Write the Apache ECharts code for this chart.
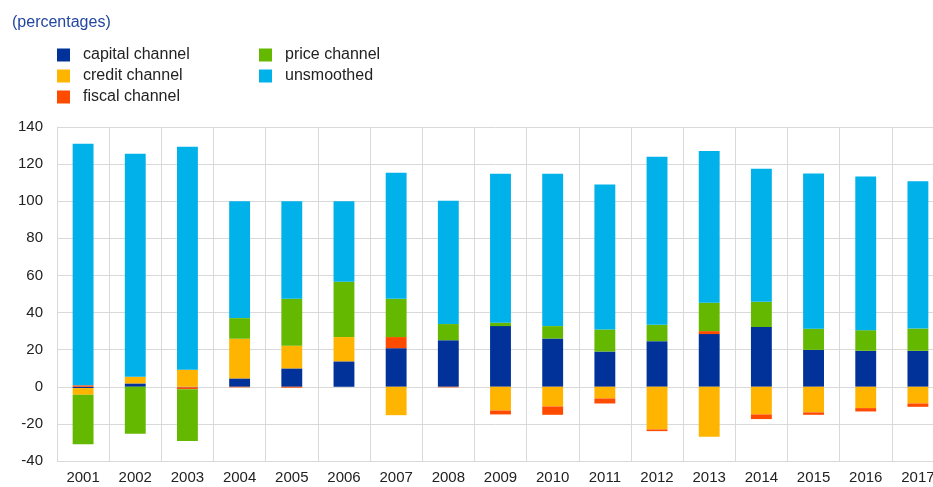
<!DOCTYPE html>
<html>
<head>
<meta charset="utf-8">
<script src="https://cdn.jsdelivr.net/npm/echarts@6/dist/echarts.min.js"></script>
<style>
  html, body { margin: 0; padding: 0; background: #fff; }
  #chart { width: 933px; height: 487px; }
</style>
</head>
<body>
<div id="chart"></div>
<script>
const years = ['2001', '2002', '2003', '2004', '2005', '2006', '2007', '2008', '2009',
  '2010', '2011', '2012', '2013', '2014', '2015', '2016', '2017']

// values (percentages)
const capital = [-0.7, 1.8, -0.3, 4.5, 9.9, 13.7, 20.8, 25.1, 32.7, 26.0, 19.0, 24.6, 28.4, 32.2, 19.9, 19.4, 19.4]
const credit = [-3.6, 3.6, 9.2, 21.4, 12.2, 13.1, -15.3, 0, -12.8, -10.6, -6.3, -23.0, -26.9, -14.9, -13.8, -11.5, -9.0]
const fiscal = [0.8, 0, -1.0, -0.3, -0.5, 0, 6.0, -0.3, -2.1, -4.5, -2.7, -0.9, 1.6, -2.5, -1.3, -1.8, -1.8]
const price = [-26.7, -25.3, -27.9, 11.1, 25.3, 29.8, 20.6, 8.7, 1.8, 6.7, 11.9, 8.8, 15.3, 13.6, 11.4, 11.1, 12.0]
const unsmoothed = [130.2, 120.2, 120.2, 63.0, 52.6, 43.4, 67.9, 66.4, 80.3, 82.1, 78.1, 90.6, 81.7, 71.7, 83.7, 82.8, 79.4]

const yTicks = { min: -40, max: 140, step: 20 }

const seriesDefs = [
  { name: 'capital channel', data: capital, color: '#003299' },
  { name: 'credit channel', data: credit, color: '#ffb400' },
  { name: 'fiscal channel', data: fiscal, color: '#ff4b00' },
  { name: 'price channel', data: price, color: '#65b800' },
  { name: 'unsmoothed', data: unsmoothed, color: '#00b1ea' }
]

const font = 'Liberation Sans, Arial, sans-serif'
const gridColor = '#d9d9d9'

const legendBase = {
  orient: 'vertical',
  top: 42,
  itemWidth: 13,
  itemHeight: 13,
  itemGap: 5,
  icon: 'rect',
  selectedMode: false,
  textStyle: { fontFamily: font, fontSize: 16, color: '#222', padding: [0, 0, 0, 8] }
}

const chart = echarts.init(document.getElementById('chart'))
chart.setOption({
  animation: false,
  title: {
    text: '(percentages)',
    left: 7,
    top: 10,
    textStyle: { fontFamily: font, fontSize: 16, fontWeight: 'normal', color: '#2346a0' }
  },
  legend: [
    Object.assign({}, legendBase, { left: 52, data: ['capital channel', 'credit channel', 'fiscal channel'] }),
    Object.assign({}, legendBase, { left: 254, data: ['price channel', 'unsmoothed'] })
  ],
  // plot runs past the right edge of the canvas, like the original
  grid: { left: 57, top: 127, width: 887, height: 334, outerBoundsMode: 'none', containLabel: false },
  xAxis: {
    type: 'category',
    data: years,
    axisLine: { show: false },
    axisTick: { show: false },
    splitLine: { show: true, lineStyle: { color: gridColor, width: 1 } },
    axisLabel: { fontFamily: font, fontSize: 15, color: '#222', margin: 9 }
  },
  yAxis: {
    type: 'value',
    min: yTicks.min,
    max: yTicks.max,
    interval: yTicks.step,
    axisLine: { show: true, lineStyle: { color: gridColor } },
    axisTick: { show: false },
    splitLine: { lineStyle: { color: gridColor, width: 1 } },
    axisLabel: { fontFamily: font, fontSize: 15, color: '#222', margin: 14 }
  },
  series: seriesDefs.map(s => ({
    name: s.name,
    type: 'bar',
    stack: 'total',
    barWidth: '40%',
    data: s.data,
    itemStyle: { color: s.color }
  }))
})
</script>
</body>
</html>
